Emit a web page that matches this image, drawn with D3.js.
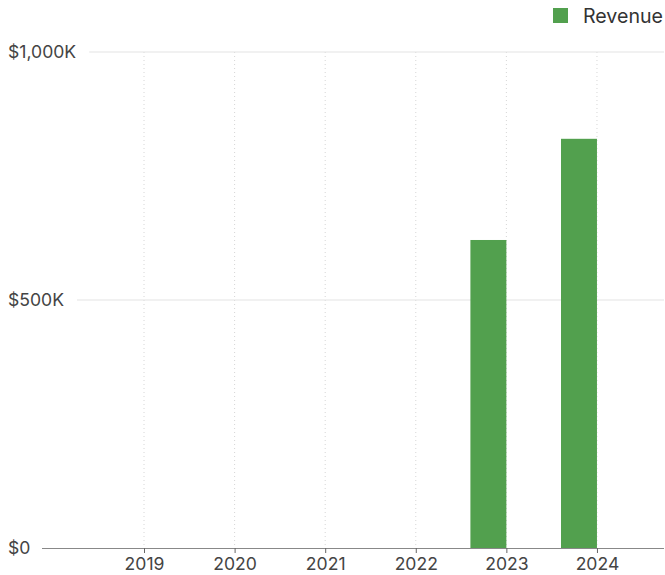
<!DOCTYPE html>
<html>
<head>
<meta charset="utf-8">
<script src="https://cdn.jsdelivr.net/npm/d3@7"></script>
<style>
  body { margin: 0; background: #fff; }
  svg { display: block; font-family: Inter, "Noto Sans", sans-serif; }
</style>
</head>
<body>
<svg id="chart" width="665" height="575"></svg>
<script>
const years = [2019, 2020, 2021, 2022, 2023, 2024];
const revenue = [0, 0, 0, 0, 621000, 825000];
const yTicks = [0, 500000, 1000000];
const seriesName = 'Revenue';
const barColor = '#52a04e';

const svg = d3.select('#chart');
const plotLeft = 42, plotRight = 664, plotTop = 52, plotBottom = 548;

// years on a continuous scale so bars can sit just left of each tick
const xScale = d3.scaleLinear()
  .domain([2017.874, 2024.74])
  .range([plotLeft, plotRight]);

const yScale = d3.scaleLinear()
  .domain([0, 1000000])
  .range([plotBottom, plotTop]);

const fmt = (v) => v === 0 ? '$0' : '$' + d3.format(',')(v / 1000) + 'K';

// vertical dotted grid
svg.append('g')
  .selectAll('line')
  .data(years)
  .enter()
  .append('line')
  .attr('x1', (d) => xScale(d))
  .attr('x2', (d) => xScale(d))
  .attr('y1', plotTop)
  .attr('y2', plotBottom)
  .attr('stroke', '#d6d6d6')
  .attr('stroke-dasharray', '1,3');

// y labels + horizontal grid starting after label
const yg = svg.append('g');
yTicks.forEach((t) => {
  const label = yg.append('text')
    .attr('x', 8)
    .attr('y', yScale(t))
    .attr('dy', '0.35em')
    .attr('font-size', 17.6)
    .attr('fill', '#444')
    .text(fmt(t));
  const w = label.node().getComputedTextLength();
  if (t !== 0) {
    yg.append('line')
      .attr('x1', 8 + w + 13)
      .attr('x2', plotRight)
      .attr('y1', yScale(t))
      .attr('y2', yScale(t))
      .attr('stroke', '#e3e3e3');
  }
});

// bars
svg.append('g')
  .selectAll('rect')
  .data(years.map((y, i) => ({ year: y, value: revenue[i] })).filter((d) => d.value > 0))
  .enter()
  .append('rect')
  .attr('x', (d) => xScale(d.year - 0.397))
  .attr('y', (d) => yScale(d.value))
  .attr('width', (d) => xScale(d.year) - xScale(d.year - 0.397))
  .attr('height', (d) => plotBottom - yScale(d.value))
  .attr('fill', barColor);

// x axis
const xAxis = d3.axisBottom(xScale)
  .tickValues(years)
  .tickFormat(d3.format('d'))
  .tickSize(5)
  .tickPadding(5);
const xg = svg.append('g')
  .attr('transform', `translate(0, ${plotBottom})`)
  .call(xAxis);
xg.select('.domain').attr('stroke', '#888').attr('d', `M${plotLeft},0.5H${plotRight}`);
xg.selectAll('.tick line').attr('stroke', '#666');
xg.selectAll('.tick text')
  .attr('fill', '#444')
  .attr('font-size', 17.6)
  .attr('font-family', 'Inter, "Noto Sans", sans-serif');

// legend
const legend = svg.append('g').attr('transform', 'translate(553, 8)');
legend.append('rect')
  .attr('width', 15)
  .attr('height', 15)
  .attr('fill', barColor);
legend.append('text')
  .attr('x', 30)
  .attr('y', 8)
  .attr('dy', '0.35em')
  .attr('font-size', 19.6)
  .attr('fill', '#333')
  .text(seriesName);
</script>
</body>
</html>
